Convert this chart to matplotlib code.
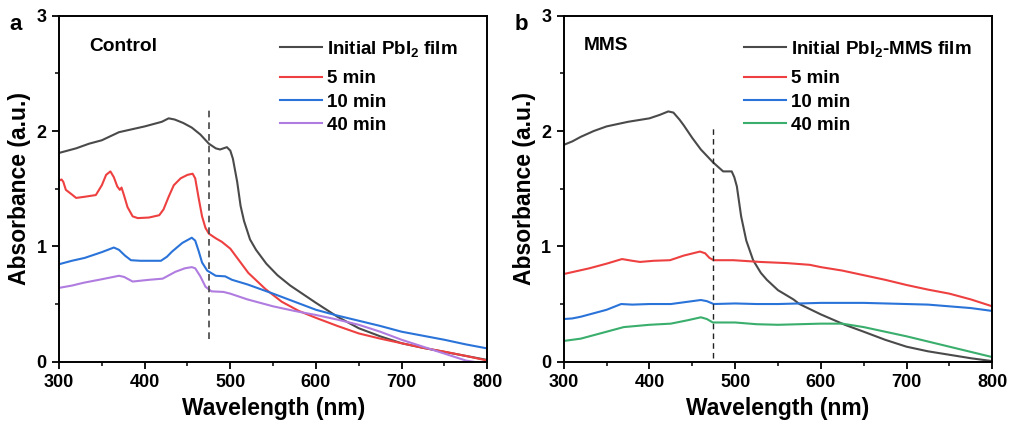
import matplotlib
matplotlib.use("Agg")
import matplotlib.pyplot as plt
from matplotlib.ticker import MultipleLocator

plt.rcParams['font.family'] = ['Liberation Sans', 'DejaVu Sans']
plt.rcParams['font.weight'] = 'bold'
plt.rcParams['mathtext.fontset'] = 'custom'
plt.rcParams['mathtext.bf'] = 'Liberation Sans:bold'
plt.rcParams['mathtext.rm'] = 'Liberation Sans:bold'
plt.rcParams['mathtext.default'] = 'bf'

# ---------------- Panel a (Control) ----------------
a_black_x = [300, 310, 320, 335, 350, 370, 400, 420, 428, 435, 445, 455, 465, 475, 483, 488, 496, 500, 503, 508, 512, 516, 523, 530, 542, 555, 570, 582, 600, 625, 650, 675, 700, 725, 750, 775, 800]
a_black_y = [1.81, 1.83, 1.85, 1.89, 1.92, 1.99, 2.04, 2.08, 2.11, 2.10, 2.07, 2.03, 1.97, 1.89, 1.85, 1.84, 1.86, 1.83, 1.76, 1.56, 1.35, 1.22, 1.06, 0.97, 0.85, 0.75, 0.66, 0.60, 0.51, 0.39, 0.29, 0.22, 0.16, 0.12, 0.085, 0.05, 0.015]

a_red_x = [300, 303, 305, 308, 315, 320, 330, 343, 350, 355, 360, 364, 368, 371, 373, 376, 380, 386, 392, 405, 417, 422, 428, 434, 442, 450, 456, 459, 463, 467, 471, 475, 483, 490, 500, 510, 521, 541, 560, 580, 600, 625, 650, 675, 700, 725, 750, 775, 800]
a_red_y = [1.57, 1.58, 1.56, 1.49, 1.45, 1.42, 1.43, 1.445, 1.53, 1.62, 1.65, 1.60, 1.52, 1.49, 1.51, 1.44, 1.34, 1.26, 1.245, 1.25, 1.27, 1.32, 1.43, 1.53, 1.59, 1.62, 1.63, 1.59, 1.42, 1.26, 1.16, 1.11, 1.07, 1.04, 0.98, 0.88, 0.77, 0.63, 0.52, 0.44, 0.38, 0.31, 0.245, 0.20, 0.16, 0.12, 0.087, 0.05, 0.01]

a_blue_x = [300, 315, 330, 350, 364, 370, 377, 384, 395, 405, 419, 426, 432, 444, 455, 459, 463, 467, 473, 483, 494, 502, 520, 550, 575, 600, 625, 650, 675, 700, 725, 750, 775, 800]
a_blue_y = [0.845, 0.875, 0.90, 0.95, 0.99, 0.97, 0.92, 0.88, 0.875, 0.875, 0.875, 0.91, 0.955, 1.03, 1.075, 1.05, 0.96, 0.86, 0.79, 0.745, 0.74, 0.71, 0.67, 0.59, 0.52, 0.45, 0.40, 0.355, 0.31, 0.26, 0.225, 0.19, 0.15, 0.115]

a_purple_x = [300, 315, 329, 350, 370, 376, 386, 405, 421, 436, 447, 455, 459, 465, 471, 478, 492, 500, 520, 550, 575, 600, 625, 650, 675, 700, 725, 750, 775, 800]
a_purple_y = [0.64, 0.66, 0.685, 0.715, 0.745, 0.735, 0.695, 0.71, 0.72, 0.78, 0.81, 0.82, 0.81, 0.74, 0.65, 0.61, 0.605, 0.59, 0.54, 0.48, 0.44, 0.405, 0.365, 0.32, 0.26, 0.19, 0.13, 0.07, 0.01, -0.02]

# ---------------- Panel b (MMS) ----------------
b_black_x = [300, 310, 320, 335, 350, 375, 400, 412, 422, 428, 435, 440, 450, 460, 474, 480, 486, 496, 499, 502, 507, 513, 521, 530, 537, 550, 568, 575, 600, 628, 650, 675, 700, 725, 750, 775, 800]
b_black_y = [1.88, 1.91, 1.95, 2.00, 2.04, 2.08, 2.11, 2.14, 2.17, 2.16, 2.10, 2.05, 1.94, 1.84, 1.73, 1.69, 1.65, 1.65, 1.60, 1.52, 1.26, 1.05, 0.88, 0.77, 0.71, 0.62, 0.54, 0.50, 0.41, 0.32, 0.26, 0.19, 0.13, 0.09, 0.06, 0.03, 0.005]

b_red_x = [300, 330, 350, 368, 380, 389, 405, 424, 440, 459, 465, 470, 475, 498, 529, 560, 587, 600, 625, 650, 675, 700, 725, 750, 775, 800]
b_red_y = [0.76, 0.81, 0.85, 0.89, 0.875, 0.865, 0.875, 0.88, 0.92, 0.955, 0.94, 0.90, 0.88, 0.88, 0.865, 0.855, 0.84, 0.82, 0.79, 0.75, 0.71, 0.665, 0.625, 0.59, 0.54, 0.48]

b_blue_x = [300, 310, 320, 335, 350, 367, 380, 400, 425, 445, 460, 467, 475, 500, 525, 550, 575, 600, 625, 650, 675, 700, 725, 750, 775, 800]
b_blue_y = [0.37, 0.375, 0.39, 0.42, 0.45, 0.50, 0.495, 0.50, 0.50, 0.52, 0.535, 0.525, 0.50, 0.505, 0.50, 0.50, 0.505, 0.51, 0.51, 0.51, 0.505, 0.50, 0.495, 0.48, 0.465, 0.44]

b_green_x = [300, 310, 320, 335, 350, 370, 385, 400, 425, 445, 460, 467, 474, 500, 525, 550, 575, 600, 625, 650, 675, 700, 725, 750, 775, 800]
b_green_y = [0.18, 0.19, 0.20, 0.23, 0.26, 0.30, 0.31, 0.32, 0.33, 0.36, 0.385, 0.37, 0.34, 0.34, 0.325, 0.32, 0.325, 0.33, 0.33, 0.30, 0.26, 0.22, 0.175, 0.13, 0.085, 0.04]

a_labels = [r'Initial PbI$_2$ film', '5 min', '10 min', '40 min']
b_labels = [r'Initial PbI$_2$-MMS film', '5 min', '10 min', '40 min']

c_black = '#4a4a4a'
c_red = '#ee4040'
c_blue = '#2a73d9'
c_purple = '#b07ce0'
c_green = '#3aae6c'

fig = plt.figure(figsize=(10.11, 4.34), dpi=100)
axa = fig.add_axes([59/1011, 1 - 361.7/434, 428.3/1011, 346/434])
axb = fig.add_axes([563.7/1011, 1 - 361.7/434, 428.6/1011, 346/434])

lw = 1.5
la = []
la += axa.plot(a_black_x, a_black_y, color=c_black, lw=lw, label=a_labels[0])
la += axa.plot(a_red_x, a_red_y, color=c_red, lw=lw, label=a_labels[1])
la += axa.plot(a_blue_x, a_blue_y, color=c_blue, lw=lw, label=a_labels[2])
la += axa.plot(a_purple_x, a_purple_y, color=c_purple, lw=lw, label=a_labels[3])
axa.plot([475, 475], [0.2, 2.2], color='#444444', lw=1.2, ls=(0, (4, 3)))

lb = []
lb += axb.plot(b_black_x, b_black_y, color=c_black, lw=lw, label=b_labels[0])
lb += axb.plot(b_red_x, b_red_y, color=c_red, lw=lw, label=b_labels[1])
lb += axb.plot(b_blue_x, b_blue_y, color=c_blue, lw=lw, label=b_labels[2])
lb += axb.plot(b_green_x, b_green_y, color=c_green, lw=lw, label=b_labels[3])
axb.plot([474, 474], [0.03, 2.03], color='#222222', lw=1.0, ls=(0, (4, 3)))

for ax, tag, legx, lines, labels in [(axa, 'a', 0.516, la, a_labels), (axb, 'b', 0.421, lb, b_labels)]:
    ax.set_xlim(300, 800)
    ax.set_ylim(0, 3)
    ax.xaxis.set_major_locator(MultipleLocator(100))
    ax.xaxis.set_minor_locator(MultipleLocator(50))
    ax.yaxis.set_major_locator(MultipleLocator(1))
    ax.yaxis.set_minor_locator(MultipleLocator(0.5))
    ax.tick_params(which='major', direction='out', length=5, width=1.3, labelsize=13, pad=4)
    ax.tick_params(which='minor', direction='out', length=3, width=1.1)
    for lab in ax.get_xticklabels() + ax.get_yticklabels():
        lab.set_fontweight('bold')
    for s in ax.spines.values():
        s.set_linewidth(1.4)
    ax.set_xlabel('Wavelength (nm)', fontsize=16.5, fontweight='bold', labelpad=4)
    ax.set_ylabel('Absorbance (a.u.)', fontsize=16.5, fontweight='bold', labelpad=4)
    ax.text(-0.115, 0.975, tag, transform=ax.transAxes, fontsize=16, fontweight='bold', ha='left', va='center')
    kw = dict(frameon=False, fontsize=13.5, handlelength=2.25, handletextpad=0.25,
              labelspacing=0.33, borderaxespad=0.0, borderpad=0.0)
    leg1 = ax.legend(lines[:1], labels[:1], loc='center left', bbox_to_anchor=(legx, 0.905), **kw)
    ax.add_artist(leg1)
    leg2 = ax.legend(lines[1:], labels[1:], loc='center left', bbox_to_anchor=(legx, 0.7506), **kw)
    for lg in (leg1, leg2):
        for t in lg.get_texts():
            t.set_fontweight('bold')

axa.text(0.07, 0.91, 'Control', transform=axa.transAxes, fontsize=13.8, fontweight='bold', va='center')
axb.text(0.047, 0.915, 'MMS', transform=axb.transAxes, fontsize=13.8, fontweight='bold', va='center')

fig.savefig('out.png', dpi=100)
